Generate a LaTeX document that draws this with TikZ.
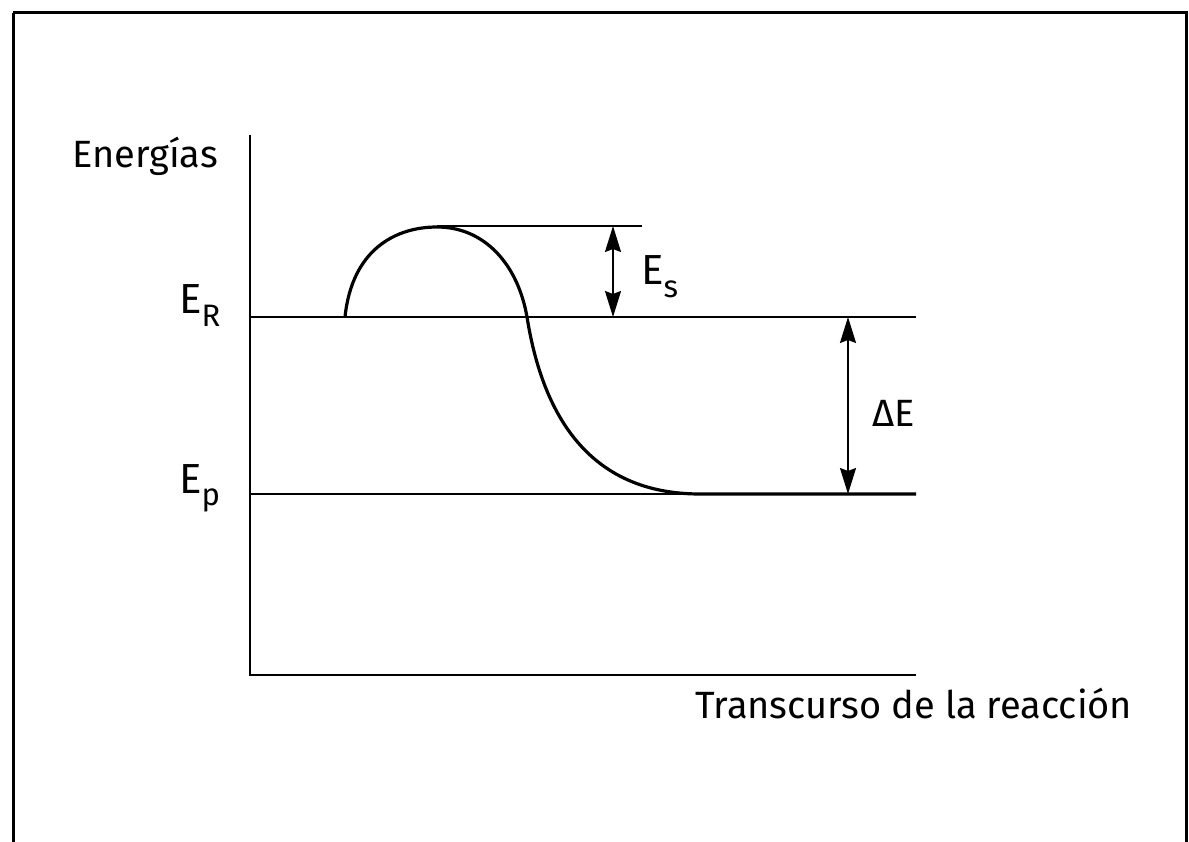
\documentclass[tikz,border=0pt]{standalone}
\usepackage{fontspec}
\setmainfont{Fira Sans}
\usetikzlibrary{arrows.meta}
\newcommand{\lbl}[2]{#1\raisebox{-0.3em}{\fontsize{31}{33}\selectfont #2}}
\begin{document}
\begin{tikzpicture}[x=1pt,y=-1pt,
  thinline/.style={line width=1.6pt},
  curveline/.style={line width=3.2pt},
  frameline/.style={line width=3pt},
  dimarrow/.style={line width=1.8pt,{Stealth[length=26pt,width=16pt,inset=3pt]}-{Stealth[length=26pt,width=16pt,inset=3pt]}},
  txt/.style={font=\fontsize{38}{42}\selectfont, inner sep=0pt},
  sym/.style={font=\fontsize{42}{46}\selectfont, inner sep=0pt}]
\useasboundingbox (0,0) rectangle (1189,842);
\fill[white] (0,0) rectangle (1189,842);
\draw[frameline] (13,13) -- (1186,13) -- (1186,870) (13,13) -- (13,870);
% axes
\coordinate (ytop) at (250,135);
\coordinate (orig) at (250,675);
\coordinate (xend) at (916,675);
\draw[thinline] (ytop) -- (orig) -- (xend);
% levels
\coordinate (erL) at (250,317);
\coordinate (erR) at (916,317);
\coordinate (epL) at (250,494);
\coordinate (epR) at (916,494);
\coordinate (topL) at (437,226);
\coordinate (topR) at (642,226);
\draw[thinline] (erL) -- (erR);
\draw[thinline] (epL) -- (epR);
\draw[thinline] (topL) -- (topR);
% curve
\coordinate (c0) at (345,317);
\coordinate (cpk) at (437,227);
\coordinate (cx) at (527,317);
\coordinate (cend) at (700,494);
\draw[curveline] (c0) .. controls (352,250) and (395,227) .. (cpk)
  .. controls (485,227) and (518,265) .. (cx)
  .. controls (545,430) and (600,494) .. (cend) -- (epR);
% arrows
\coordinate (esT) at (613,226);
\coordinate (esB) at (613,317);
\draw[dimarrow] (esT) -- (esB);
\coordinate (deT) at (848,317);
\coordinate (deB) at (848,494);
\draw[dimarrow] (deT) -- (deB);
% labels
\node[txt, anchor=base west] (energ) at (72,168) {Energías};
\node[sym, anchor=base west] (er) at (179,314) {\lbl{E}{R}};
\node[sym, anchor=base west] (ep) at (179,493) {\lbl{E}{p}};
\node[sym, anchor=base west] (es) at (641,285) {\lbl{E}{s}};
\node[txt, anchor=base west] (de) at (872,426) {ΔE};
\node[txt, anchor=base west] (trans) at (695,718) {Transcurso de la reacción};
\end{tikzpicture}
\end{document}
